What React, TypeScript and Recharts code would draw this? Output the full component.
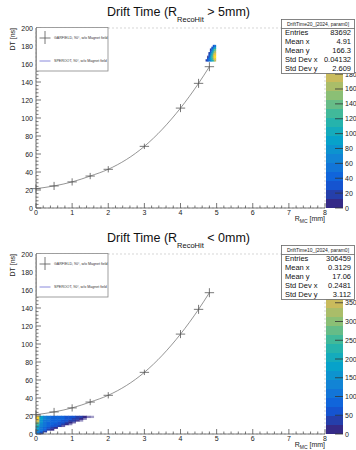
import {
  ComposedChart,
  BarChart,
  Bar,
  Line,
  Scatter,
  ErrorBar,
  XAxis,
  YAxis,
  CartesianGrid,
  ReferenceArea,
} from 'recharts';

const FONT = '"Liberation Sans", Arial, Helvetica, sans-serif';

// GARFIELD reference points: R [mm] vs drift time [ns]
const garfieldR = [0, 0.5, 1, 1.5, 2, 3, 4, 4.5, 4.8];
const garfieldDT = [21.5, 24.5, 29, 35.5, 43, 68.5, 111, 138.5, 157];
const garfieldErrR = [0.13, 0.13, 0.13, 0.13, 0.13, 0.13, 0.13, 0.13, 0.13];
const garfieldErrDT = [4.5, 4.5, 4, 3.5, 3.5, 3, 4.5, 5, 5];

const xMajor = [0, 1, 2, 3, 4, 5, 6, 7, 8];
const yMajor = [0, 20, 40, 60, 80, 100, 120, 140, 160, 180, 200];

// 2D histogram, R_RecoHit > 5mm (rows bottom -> top)
const top2dBinsX = [4.7, 0.04];
const top2dBinsY = [163, 2];
const top2dCounts = [
  [15, 30, 50, 70, 100, 130, 170],
  [0, 25, 55, 85, 120, 160, 205],
  [0, 10, 45, 85, 130, 180, 225],
  [0, 0, 30, 75, 120, 170, 215],
  [0, 0, 15, 55, 100, 150, 190],
  [0, 0, 0, 35, 80, 130, 165],
  [0, 0, 0, 15, 60, 100, 135],
  [0, 0, 0, 0, 30, 70, 100],
  [0, 0, 0, 0, 0, 30, 60],
];
const topZMax = 242;
const topZTicks = [0, 20, 40, 60, 80, 100, 120, 140, 160, 180];

// 2D histogram, R_RecoHit < 0mm (rows bottom -> top)
const bot2dBinsX = [0, 0.1];
const bot2dBinsY = [0, 2];
const bot2dCounts = [
  [110, 45],
  [130, 80, 30],
  [150, 100, 75, 45, 15],
  [170, 115, 90, 70, 45, 15],
  [200, 130, 100, 85, 70, 50, 25, 8],
  [240, 140, 105, 90, 80, 70, 55, 35, 15, 5],
  [300, 150, 110, 95, 85, 78, 70, 58, 40, 22, 8],
  [380, 165, 115, 100, 90, 82, 75, 68, 58, 45, 28, 12, 4],
  [430, 180, 120, 105, 95, 86, 80, 74, 66, 58, 45, 30, 15, 6],
  [410, 175, 120, 105, 95, 88, 82, 76, 70, 62, 54, 40, 26, 14, 6, 3],
];
const botZMax = 480;
const botZTicks = [0, 50, 100, 150, 200, 250, 300, 350];

const statLabels = ['Entries', 'Mean x', 'Mean y', 'Std Dev x', 'Std Dev y'];
const topStats = ['83692', '4.91', '166.3', '0.04132', '2.609'];
const botStats = ['306459', '0.3129', '17.06', '0.2481', '3.112'];

const N_CONTOURS = 20;

// ROOT kBird palette
const birdStops = [0, 0.125, 0.25, 0.375, 0.5, 0.625, 0.75, 0.875, 1];
const birdR = [0.2082, 0.0592, 0.078, 0.0232, 0.1802, 0.5301, 0.8186, 0.9956, 0.9764];
const birdG = [0.1664, 0.3599, 0.5041, 0.6419, 0.7178, 0.7492, 0.7328, 0.7862, 0.9832];
const birdB = [0.5293, 0.8684, 0.8385, 0.7914, 0.6425, 0.4662, 0.3499, 0.1968, 0.0539];

function bird(t: number) {
  const v = Math.max(0, Math.min(1, t));
  let i = 0;
  while (i < birdStops.length - 2 && v > birdStops[i + 1]) i++;
  const f = (v - birdStops[i]) / (birdStops[i + 1] - birdStops[i]);
  const c = (a: number[]) => Math.round(255 * (a[i] + f * (a[i + 1] - a[i])));
  return `rgb(${c(birdR)},${c(birdG)},${c(birdB)})`;
}

const bandColor = (i: number) => bird(i / (N_CONTOURS - 1));

const xTicks = Array.from({ length: 41 }, (_, i) => +(i * 0.2).toFixed(1));
const yTicks = Array.from({ length: 51 }, (_, i) => i * 4);

const XTick = (props: any) => {
  const { x, y, payload } = props;
  const v = payload.value;
  const major = Math.abs(v - Math.round(v)) < 1e-6;
  return (
    <g>
      <line x1={x} x2={x} y1={y} y2={y - (major ? 5 : 2.5)} stroke="#555" strokeWidth={0.8} />
      {major && (
        <text x={x} y={y + 6.5} textAnchor="middle" fontSize={7} fill="#222" fontFamily={FONT}>
          {v}
        </text>
      )}
    </g>
  );
};

const YTick = (props: any) => {
  const { x, y, payload } = props;
  const v = payload.value;
  const major = v % 20 === 0;
  return (
    <g>
      <line x1={x} x2={x + (major ? 5 : 2.5)} y1={y} y2={y} stroke="#555" strokeWidth={0.8} />
      {major && (
        <text x={x - 3} y={y + 2.5} textAnchor="end" fontSize={7} fill="#222" fontFamily={FONT}>
          {v}
        </text>
      )}
    </g>
  );
};

const ZTick = (props: any) => {
  const { x, y, payload } = props;
  return (
    <g>
      <line x1={x - 8} x2={x} y1={y} y2={y} stroke="#333" strokeWidth={0.8} />
      <text x={x + 2} y={y + 2.5} textAnchor="start" fontSize={7} fill="#222" fontFamily={FONT}>
        {payload.value}
      </text>
    </g>
  );
};

type PanelProps = {
  cut: string;
  histName: string;
  stats: string[];
  binsX: number[];
  binsY: number[];
  counts: number[][];
  zMax: number;
  zTicks: number[];
};

function Panel({ cut, histName, stats, binsX, binsY, counts, zMax, zTicks }: PanelProps) {
  const pts = garfieldR.map((r, i) => ({
    x: r,
    y: garfieldDT[i],
    ex: garfieldErrR[i],
    ey: garfieldErrDT[i],
  }));

  const cells: { x1: number; x2: number; y1: number; y2: number; c: number }[] = [];
  counts.forEach((row, j) =>
    row.forEach((c, i) => {
      if (c <= 0) return;
      cells.push({
        x1: binsX[0] + i * binsX[1],
        x2: binsX[0] + (i + 1) * binsX[1],
        y1: binsY[0] + j * binsY[1],
        y2: binsY[0] + (j + 1) * binsY[1],
        c,
      });
    })
  );

  const bandRow: Record<string, number | string> = { name: 'z' };
  for (let i = 0; i < N_CONTOURS; i++) bandRow[`b${i}`] = zMax / N_CONTOURS;

  return (
    <div style={{ position: 'relative', width: 356, height: 225 }}>
      <div style={{ position: 'absolute', left: 0, top: 0 }}>
        <ComposedChart width={356} height={225} margin={{ top: 28, right: 31, bottom: 0, left: 0 }}>
          <CartesianGrid
            xAxisId="top"
            yAxisId="right"
            stroke="#c4c4c4"
            strokeDasharray="2 2"
            strokeWidth={0.7}
          />
          <XAxis
            dataKey="x"
            type="number"
            domain={[0, 8]}
            ticks={xTicks}
            interval={0}
            tick={<XTick />}
            tickLine={false}
            tickSize={0}
            tickMargin={0}
            height={17}
            axisLine={{ stroke: '#555', strokeWidth: 0.8 }}
            allowDataOverflow
          />
          <XAxis
            xAxisId="top"
            orientation="top"
            type="number"
            domain={[0, 8]}
            ticks={xMajor}
            tick={false}
            tickLine={false}
            height={0}
            axisLine={{ stroke: '#999', strokeWidth: 0.8 }}
            allowDataOverflow
          />
          <YAxis
            type="number"
            domain={[0, 200]}
            ticks={yTicks}
            interval={0}
            tick={<YTick />}
            tickLine={false}
            tickSize={0}
            tickMargin={0}
            width={36}
            axisLine={{ stroke: '#555', strokeWidth: 0.8 }}
            allowDataOverflow
          />
          <YAxis
            yAxisId="right"
            orientation="right"
            type="number"
            domain={[0, 200]}
            ticks={yMajor}
            tick={false}
            tickLine={false}
            width={0}
            axisLine={{ stroke: '#999', strokeWidth: 0.8 }}
            allowDataOverflow
          />
          {cells.map((cell, k) => {
            const fill = bandColor(Math.min(N_CONTOURS - 1, Math.floor((cell.c / zMax) * N_CONTOURS)));
            const op = Math.min(1, cell.c / 20 + 0.3);
            return (
              <ReferenceArea
                key={`cell-${k}`}
                x1={cell.x1}
                x2={cell.x2}
                y1={cell.y1}
                y2={cell.y2}
                ifOverflow="visible"
                shape={(p: any) => (
                  <rect
                    x={p.x - 0.25}
                    y={p.y - 0.25}
                    width={p.width + 0.5}
                    height={p.height + 0.5}
                    fill={fill}
                    fillOpacity={op}
                    stroke="none"
                  />
                )}
              />
            );
          })}
          <Line
            data={pts}
            dataKey="y"
            type="monotone"
            stroke="#7a7a7a"
            strokeWidth={0.8}
            dot={false}
            isAnimationActive={false}
          />
          <Scatter data={pts} dataKey="y" shape={() => <g />} isAnimationActive={false}>
            <ErrorBar dataKey="ey" direction="y" width={0} stroke="#555" strokeWidth={0.8} />
            <ErrorBar dataKey="ex" direction="x" width={0} stroke="#555" strokeWidth={0.8} />
          </Scatter>
        </ComposedChart>
      </div>

      <div style={{ position: 'absolute', left: 326, top: 0 }}>
        <BarChart
          width={30}
          height={225}
          data={[bandRow]}
          margin={{ top: 28, right: 0, bottom: 17, left: 0 }}
          barCategoryGap={0}
        >
          <XAxis dataKey="name" hide />
          <YAxis
            orientation="right"
            type="number"
            domain={[0, zMax]}
            ticks={zTicks}
            interval={0}
            tick={<ZTick />}
            tickLine={false}
            tickSize={0}
            tickMargin={0}
            axisLine={false}
            width={13}
            allowDataOverflow
          />
          {Array.from({ length: N_CONTOURS }, (_, i) => (
            <Bar key={i} dataKey={`b${i}`} stackId="z" fill={bandColor(i)} isAnimationActive={false} />
          ))}
        </BarChart>
      </div>

      <svg
        width={356}
        height={225}
        style={{ position: 'absolute', left: 0, top: 0, pointerEvents: 'none' }}
        fontFamily={FONT}
      >
        <text x={178.5} y={16} textAnchor="middle" fontSize={12.5} fill="#111">
          Drift Time (R
          <tspan fontSize={7.5} dy={5.5}>
            RecoHit
          </tspan>
          <tspan dy={-5.5}> {cut})</tspan>
        </text>

        <text transform="translate(14.5,28) rotate(-90)" textAnchor="end" fontSize={7} fill="#222">
          DT [ns]
        </text>
        <text x={325} y={221} textAnchor="end" fontSize={7} fill="#222">
          R
          <tspan fontSize={5} dy={1.5}>
            MC
          </tspan>
          <tspan dy={-1.5}> [mm]</tspan>
        </text>

        {/* legend */}
        <rect x={36.5} y={27.5} width={71.5} height={43.5} fill="#fff" stroke="#888" strokeWidth={0.8} />
        <line x1={45} x2={45} y1={31} y2={44} stroke="#555" strokeWidth={0.8} />
        <line x1={39.5} x2={50.5} y1={38} y2={38} stroke="#555" strokeWidth={0.8} />
        <text x={54} y={39.3} fontSize={3.6} fill="#333">
          GARFIELD, 90°, w/o Magnet field
        </text>
        <line x1={39.5} x2={50.5} y1={61} y2={61} stroke="#7d7dd8" strokeWidth={0.9} />
        <text x={54} y={62.3} fontSize={3.6} fill="#333">
          SPEROOT, 90°, w/o Magnet field
        </text>

        {/* stats box */}
        <rect x={281.5} y={19.5} width={73} height={54} fill="#fff" stroke="#666" strokeWidth={0.8} />
        <line x1={281.5} x2={354.5} y1={28.5} y2={28.5} stroke="#666" strokeWidth={0.8} />
        <text x={318} y={26.3} textAnchor="middle" fontSize={5} fill="#222">
          {histName}
        </text>
        {statLabels.map((lab, i) => (
          <g key={lab}>
            <text x={285} y={35 + i * 8.9} fontSize={7.5} fill="#111">
              {lab}
            </text>
            <text x={351} y={35 + i * 8.9} textAnchor="end" fontSize={7.5} fill="#111">
              {stats[i]}
            </text>
          </g>
        ))}
      </svg>
    </div>
  );
}

export default function App() {
  return (
    <div style={{ position: 'absolute', left: 0, top: 0, width: 356, height: 450, background: '#fff', overflow: 'hidden' }}>
      <div style={{ position: 'absolute', left: 0, top: 0 }}>
        <Panel
          cut="> 5mm"
          histName="DriftTime20_[2024, param0]"
          stats={topStats}
          binsX={top2dBinsX}
          binsY={top2dBinsY}
          counts={top2dCounts}
          zMax={topZMax}
          zTicks={topZTicks}
        />
      </div>
      <div style={{ position: 'absolute', left: 0, top: 226 }}>
        <Panel
          cut="< 0mm"
          histName="DriftTime10_[2024, param0]"
          stats={botStats}
          binsX={bot2dBinsX}
          binsY={bot2dBinsY}
          counts={bot2dCounts}
          zMax={botZMax}
          zTicks={botZTicks}
        />
      </div>
    </div>
  );
}
